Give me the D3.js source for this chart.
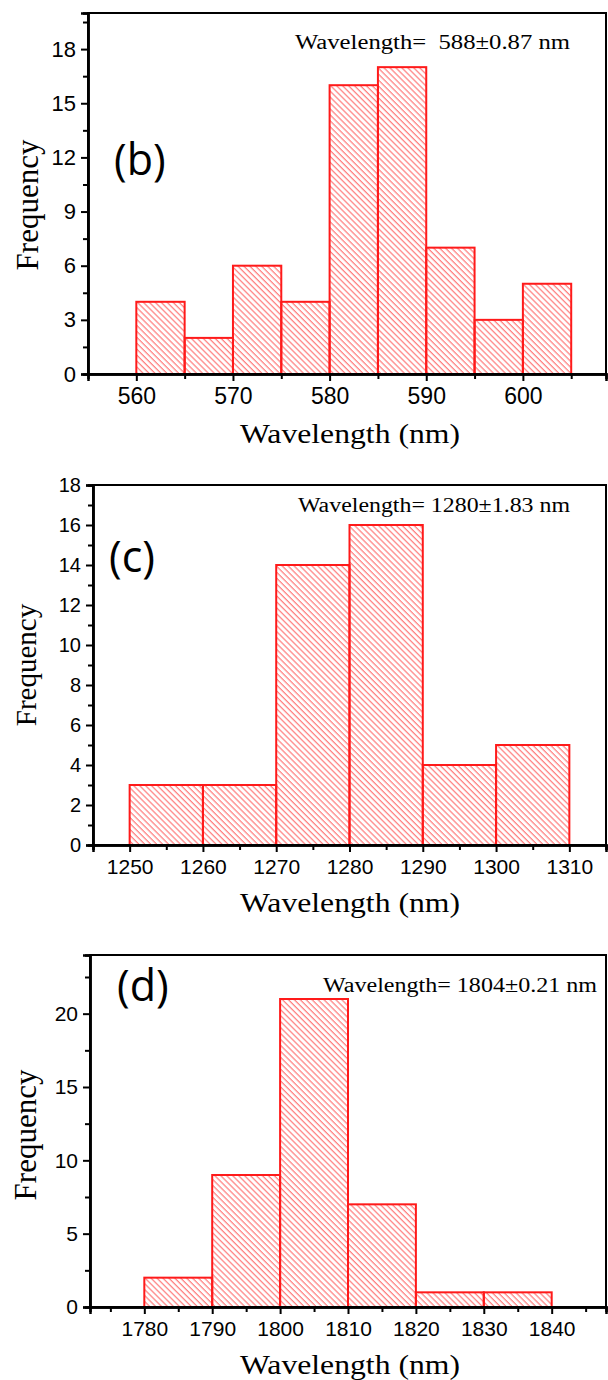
<!DOCTYPE html>
<html>
<head>
<meta charset="utf-8">
<script src="https://cdn.jsdelivr.net/npm/d3@7"></script>
<style>
	body { margin: 0; background: #fff; }
	svg { display: block; }
</style>
</head>
<body>
<svg id="chart" width="608" height="1380"></svg>
<script>
// Panel (b) - visible wavelength histogram
const edgesB = [560, 565, 570, 575, 580, 585, 590, 595, 600, 605];
const countsB = [4, 2, 6, 4, 16, 17, 7, 3, 5];
const xTicksB = [560, 570, 580, 590, 600];
const yTicksB = [0, 3, 6, 9, 12, 15, 18];
const noteB = 'Wavelength=  588±0.87 nm';

// Panel (c)
const edgesC = [1250, 1260, 1270, 1280, 1290, 1300, 1310];
const countsC = [3, 3, 14, 16, 4, 5];
const xTicksC = [1250, 1260, 1270, 1280, 1290, 1300, 1310];
const yTicksC = [0, 2, 4, 6, 8, 10, 12, 14, 16, 18];
const noteC = 'Wavelength= 1280±1.83 nm';

// Panel (d)
const edgesD = [1780, 1790, 1800, 1810, 1820, 1830, 1840];
const countsD = [2, 9, 21, 7, 1, 1];
const xTicksD = [1780, 1790, 1800, 1810, 1820, 1830, 1840];
const yTicksD = [0, 5, 10, 15, 20];
const noteD = 'Wavelength= 1804±0.21 nm';

const RED = '#ff1a1a';
const svg = d3.select('#chart');

// Hatch pattern (\\\ lines)
svg.append('defs')
	.append('pattern')
	.attr('id', 'hatch')
	.attr('patternUnits', 'userSpaceOnUse')
	.attr('width', 4.2)
	.attr('height', 10)
	.attr('patternTransform', 'rotate(-45)')
	.append('line')
	.attr('x1', 1).attr('y1', 0)
	.attr('x2', 1).attr('y2', 10)
	.attr('stroke', RED)
	.attr('stroke-opacity', 0.7)
	.attr('stroke-width', 1);

function drawPanel(cfg) {
	const x = d3.scaleLinear().domain(cfg.xDomain).range([cfg.left, cfg.right]);
	const y = d3.scaleLinear().domain(cfg.yDomain).range([cfg.bottom, cfg.top]);
	const g = svg.append('g');

	// Bars
	const bins = cfg.counts.map((c, i) => ({ x0: cfg.edges[i], x1: cfg.edges[i + 1], n: c }));
	g.selectAll('rect.bar')
		.data(bins)
		.enter()
		.append('rect')
		.attr('class', 'bar')
		.attr('x', (d) => x(d.x0))
		.attr('y', (d) => y(d.n))
		.attr('width', (d) => x(d.x1) - x(d.x0))
		.attr('height', (d) => y(0) - y(d.n))
		.attr('fill', 'url(#hatch)')
		.attr('stroke', RED)
		.attr('stroke-width', 2);

	// Frame
	g.append('rect')
		.attr('x', cfg.left)
		.attr('y', cfg.top)
		.attr('width', cfg.right - cfg.left)
		.attr('height', cfg.bottom - cfg.top)
		.attr('fill', 'none')
		.attr('stroke', '#000')
		.attr('stroke-width', 2);

	// Bottom axis - major with labels, minor without
	const xAxis = g.append('g')
		.attr('transform', `translate(0,${cfg.bottom})`)
		.call(d3.axisBottom(x).tickValues(cfg.xTicks).tickSize(7).tickPadding(7).tickFormat(d3.format('d')));
	g.append('g')
		.attr('transform', `translate(0,${cfg.bottom})`)
		.call(d3.axisBottom(x).tickValues(cfg.xMinor).tickSize(5).tickFormat(''));

	const yAxis = g.append('g')
		.attr('transform', `translate(${cfg.left},0)`)
		.call(d3.axisLeft(y).tickValues(cfg.yTicks).tickSize(7).tickPadding(5).tickFormat(d3.format('d')));
	g.append('g')
		.attr('transform', `translate(${cfg.left},0)`)
		.call(d3.axisLeft(y).tickValues(cfg.yMinor).tickSize(5).tickFormat(''));

	g.selectAll('.domain').attr('stroke-width', 2.5);
	g.selectAll('.tick line').attr('stroke-width', 2);
	xAxis.selectAll('text').attr('font-family', 'Liberation Sans, Arial, sans-serif').attr('font-size', cfg.xTickFont).attr('fill', '#000');
	yAxis.selectAll('text').attr('font-family', 'Liberation Sans, Arial, sans-serif').attr('font-size', cfg.yTickFont).attr('fill', '#000');

	// Axis titles
	g.append('text')
		.attr('x', 240)
		.attr('y', cfg.xTitleY)
		.attr('font-family', 'Liberation Serif, Times New Roman, serif')
		.attr('font-size', 28)
		.attr('textLength', 220)
		.attr('lengthAdjust', 'spacingAndGlyphs')
		.text('Wavelength (nm)');

	g.append('text')
		.attr('transform', `translate(${cfg.yTitleX},${cfg.yTitleY}) rotate(-90)`)
		.attr('text-anchor', 'middle')
		.attr('font-family', 'Liberation Serif, Times New Roman, serif')
		.attr('font-size', cfg.yTitleFont)
		.text('Frequency');

	// Panel letter and note
	g.append('text')
		.attr('x', cfg.labelX)
		.attr('y', cfg.labelY)
		.attr('font-family', 'Open Sans, Liberation Sans, sans-serif')
		.attr('font-size', 43)
		.text(cfg.label);

	g.append('text')
		.attr('x', cfg.noteX)
		.attr('y', cfg.noteY)
		.attr('font-family', 'Liberation Serif, Times New Roman, serif')
		.attr('font-size', 20)
		.attr('textLength', cfg.noteW)
		.attr('lengthAdjust', 'spacingAndGlyphs')
		.style('white-space', 'pre')
		.text(cfg.note);
}

drawPanel({
	edges: edgesB, counts: countsB, xTicks: xTicksB, yTicks: yTicksB, note: noteB, label: '(b)',
	xMinor: [565, 575, 585, 595, 605], yMinor: [1.5, 4.5, 7.5, 10.5, 13.5, 16.5, 19.5],
	xDomain: [555, 608.6], yDomain: [0, 20],
	left: 88, right: 606, top: 13, bottom: 374,
	xTickFont: 23, yTickFont: 22, xTitleY: 443, yTitleX: 38, yTitleY: 205, yTitleFont: 31,
	labelX: 114, labelY: 175, noteX: 295, noteY: 49, noteW: 275,
});

drawPanel({
	edges: edgesC, counts: countsC, xTicks: xTicksC, yTicks: yTicksC, note: noteC, label: '(c)',
	xMinor: [1245, 1255, 1265, 1275, 1285, 1295, 1305, 1315], yMinor: [1, 3, 5, 7, 9, 11, 13, 15, 17],
	xDomain: [1245, 1315], yDomain: [0, 18],
	left: 93, right: 606, top: 485, bottom: 845,
	xTickFont: 21, yTickFont: 20, xTitleY: 912, yTitleX: 36, yTitleY: 665, yTitleFont: 29,
	labelX: 109, labelY: 572, noteX: 298, noteY: 512, noteW: 272,
});

drawPanel({
	edges: edgesD, counts: countsD, xTicks: xTicksD, yTicks: yTicksD, note: noteD, label: '(d)',
	xMinor: [1775, 1785, 1795, 1805, 1815, 1825, 1835, 1845], yMinor: [2.5, 7.5, 12.5, 17.5, 22.5],
	xDomain: [1772, 1848], yDomain: [0, 24],
	left: 90, right: 606, top: 955, bottom: 1307,
	xTickFont: 21, yTickFont: 21, xTitleY: 1374, yTitleX: 36, yTitleY: 1135, yTitleFont: 31,
	labelX: 117, labelY: 1001, noteX: 323, noteY: 992, noteW: 274,
});
</script>
</body>
</html>
